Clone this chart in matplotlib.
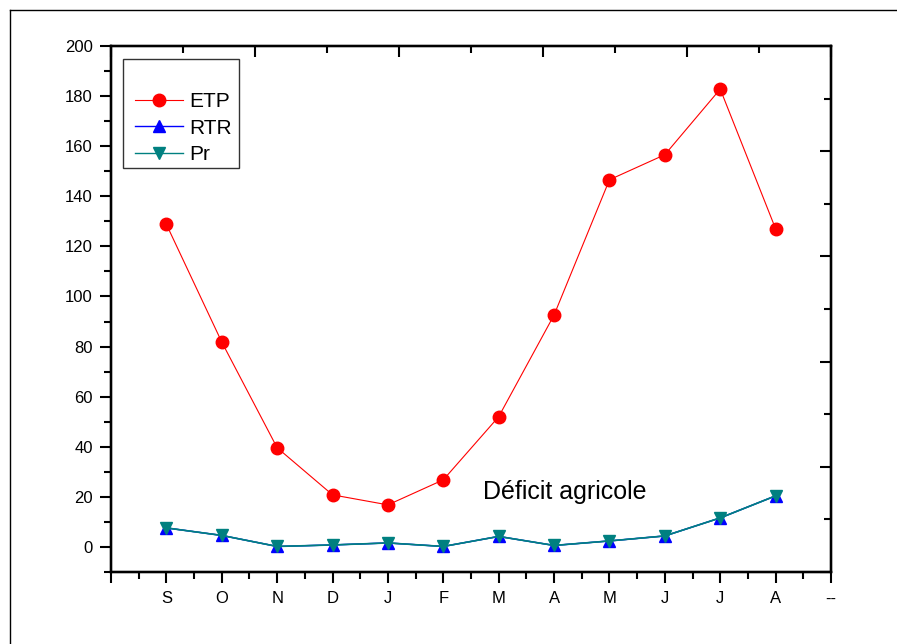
import matplotlib
matplotlib.use("Agg")
import matplotlib.pyplot as plt
from matplotlib.lines import Line2D
from matplotlib.patches import Rectangle
import numpy as np

plt.rcParams['font.family'] = ['Liberation Sans', 'DejaVu Sans']

months = ['S', 'O', 'N', 'D', 'J', 'F', 'M', 'A', 'M', 'J', 'J', 'A']
etp = [128.8, 81.8, 39.6, 20.8, 16.8, 26.8, 52.0, 92.6, 146.6, 156.6, 182.8, 127.0]
rtr = [7.6, 4.6, 0.2, 0.8, 1.6, 0.2, 4.2, 0.6, 2.4, 4.4, 11.6, 20.4]
pr = [7.6, 4.6, 0.2, 0.8, 1.6, 0.2, 4.2, 0.6, 2.4, 4.4, 11.6, 20.4]
xpos = np.arange(1, len(months) + 1)
xtick_labels = [''] + months + ['--']

fig = plt.figure(figsize=(8.97, 6.44), dpi=100)
ax = fig.add_axes([111/897, 1 - 572/644, 720/897, 526/644])

ax.plot(xpos, etp, color='#ff0000', lw=0.8, marker='o', ms=9,
        markeredgecolor='#ff0000', markerfacecolor='#ff0000', label='ETP', zorder=3)
ax.plot(xpos, rtr, color='#0000ff', lw=1.0, marker='^', ms=9,
        markeredgecolor='#0000ff', markerfacecolor='#0000ff', label='RTR', zorder=3)
ax.plot(xpos, pr, color='#008080', lw=1.0, marker='v', ms=9, alpha=1,
        markeredgecolor='#008080', markerfacecolor='#008080', label='Pr', zorder=4)
# blended look of overlapping lines
ax.plot(xpos, pr, color='#1a6fa8', lw=1.2, zorder=3.5)

ax.set_xlim(0, 13)
ax.set_ylim(-10, 200)
ax.set_xticks(np.arange(0, 14))
ax.set_xticklabels(xtick_labels, fontsize=12)
ax.set_xticks(np.arange(0.5, 13, 1), minor=True)
ax.set_yticks(np.arange(0, 201, 20))
ax.set_yticks(np.arange(-10, 201, 10), minor=True)
ax.tick_params(axis='both', which='major', direction='out', length=8, width=1.5,
               labelsize=12)
ax.tick_params(axis='both', which='minor', direction='out', length=5, width=1.5)
ax.tick_params(axis='x', which='major', pad=6, labelsize=12)
ax.tick_params(axis='y', which='major', pad=5)
for s in ax.spines.values():
    s.set_linewidth(1.6)

# opposite axes with inward ticks
axt = ax.twiny()
axt.set_xlim(0, 10)
axt.set_xticks(np.arange(0, 11, 2))
axt.set_xticks(np.arange(1, 10, 2), minor=True)
axt.tick_params(axis='x', which='major', direction='in', length=8, width=1.5, labeltop=False)
axt.tick_params(axis='x', which='minor', direction='in', length=5, width=1.5)
axr = ax.twinx()
axr.set_ylim(0, 10)
axr.set_yticks(np.arange(0, 11, 2))
axr.set_yticks(np.arange(1, 10, 2), minor=True)
axr.tick_params(axis='y', which='major', direction='in', length=8, width=1.5, labelright=False)
axr.tick_params(axis='y', which='minor', direction='in', length=5, width=1.5)
for a in (axt, axr):
    for s in a.spines.values():
        s.set_linewidth(1.6)

ax.text(8.2, 22, 'Déficit agricole', fontsize=18, ha='center', va='center', zorder=5)

leg = ax.legend(loc='upper left', bbox_to_anchor=(135/897, 1 - 92/644),
                bbox_transform=fig.transFigure, frameon=False, fontsize=15,
                handlelength=2.3, handletextpad=0.3, labelspacing=0.37,
                borderpad=0, borderaxespad=0)
leg.set_zorder(10)

fig.add_artist(Rectangle((123/897, 1 - 168/644), 116/897, 109/644,
                         transform=fig.transFigure, fill=False,
                         edgecolor='#333333', lw=1.0, zorder=9))

# outer frame
fig.add_artist(Line2D([9.5/897, 9.5/897], [0, 1 - 9.5/644], transform=fig.transFigure,
                      color='black', lw=1.0))
fig.add_artist(Line2D([9.5/897, 1], [1 - 9.5/644, 1 - 9.5/644], transform=fig.transFigure,
                      color='black', lw=1.0))

fig.savefig('out.png', dpi=100)
